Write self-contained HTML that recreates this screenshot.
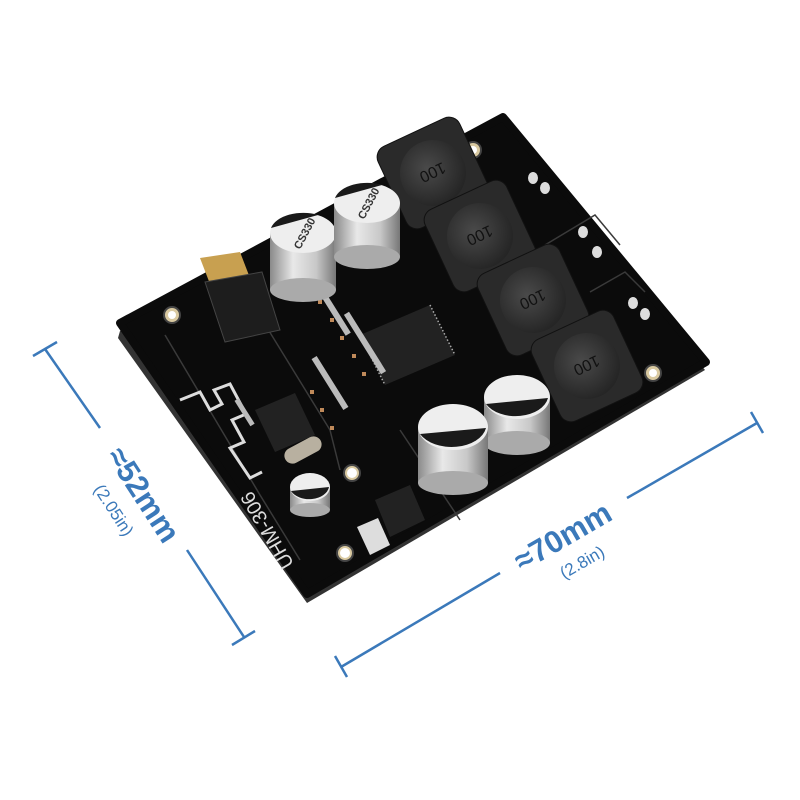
<!DOCTYPE html>
<html><head><meta charset="utf-8"><style>
html,body{margin:0;padding:0;background:#fff;}
svg{display:block}
text{font-family:"Liberation Sans",sans-serif}
</style></head><body>
<svg width="800" height="800" viewBox="0 0 800 800" xmlns="http://www.w3.org/2000/svg">
<defs>
<linearGradient id="cap" x1="0" x2="1" y1="0" y2="0">
<stop offset="0" stop-color="#8a8a8a"/><stop offset="0.35" stop-color="#e8e8e8"/><stop offset="0.7" stop-color="#c8c8c8"/><stop offset="1" stop-color="#777"/>
</linearGradient>
<radialGradient id="core" cx="0.45" cy="0.4" r="0.6"><stop offset="0" stop-color="#4a4a4a"/><stop offset="1" stop-color="#252525"/></radialGradient>
</defs>

<polygon points="120,326 505,118 705,365 307,598 118,333" fill="#333" transform="translate(0,5)"/>
<polygon points="120,323 503,117 706,362 307,594" fill="#0b0b0b" stroke="#0b0b0b" stroke-width="8" stroke-linejoin="round"/>

<g fill="none" stroke="#3a3a3a" stroke-width="1.5">
<polyline points="165,335 260,495 300,560"/>
<polyline points="250,300 330,430 340,470"/>
<polyline points="400,430 460,520"/>
<polyline points="545,245 595,215 620,245"/>
<polyline points="590,292 625,272 645,292"/>
</g>
<path d="M180,400 L200,392 L210,410 L222,404 L214,390 L230,384 L246,414 L232,420 L244,442 L230,448 L250,478 L262,472" fill="none" stroke="#ddd" stroke-width="3"/>

<g fill="#d9c9a0" stroke="#444" stroke-width="2">
<circle cx="172" cy="315" r="8"/><circle cx="473" cy="150" r="8"/><circle cx="653" cy="373" r="8"/>
<circle cx="352" cy="473" r="8"/><circle cx="345" cy="553" r="8"/>
</g>
<g fill="#fff"><circle cx="172" cy="315" r="4"/><circle cx="473" cy="150" r="4"/><circle cx="653" cy="373" r="4"/><circle cx="352" cy="473" r="5"/><circle cx="345" cy="553" r="5"/></g>

<polygon points="200,258 240,252 250,278 210,284" fill="#c8a050"/>
<polygon points="205,282 262,272 280,330 225,342" fill="#1d1d1d" stroke="#444"/>

<polygon points="360,335 430,305 455,355 385,385" fill="#222"/>
<g stroke="#aaa" stroke-width="1.5">
<line x1="360" y1="335" x2="385" y2="385" stroke-dasharray="1.5,2"/>
<line x1="430" y1="305" x2="455" y2="355" stroke-dasharray="1.5,2"/>
</g>
<polygon points="255,410 295,393 315,435 275,452" fill="#222"/>
<g fill="#bbb">
<rect x="310" y="310" width="50" height="6" transform="rotate(58 335 313)"/>
<rect x="330" y="340" width="70" height="6" transform="rotate(58 365 343)"/>
<rect x="300" y="380" width="60" height="6" transform="rotate(58 330 383)"/>
<rect x="230" y="410" width="30" height="5" transform="rotate(58 245 412)"/>
</g>
<g fill="#c08a5a">
<rect x="318" y="300" width="4" height="4"/><rect x="330" y="318" width="4" height="4"/><rect x="340" y="336" width="4" height="4"/>
<rect x="352" y="354" width="4" height="4"/><rect x="362" y="372" width="4" height="4"/><rect x="310" y="390" width="4" height="4"/>
<rect x="320" y="408" width="4" height="4"/><rect x="330" y="426" width="4" height="4"/>
</g>
<rect x="283" y="442" width="40" height="16" rx="8" fill="#b8b0a0" transform="rotate(-28 303 450)"/>
<polygon points="375,500 410,485 425,520 390,537" fill="#222"/>
<polygon points="357,527 378,518 390,545 370,555" fill="#ddd"/>

<g fill="#ddd">
<ellipse cx="533" cy="178" rx="5" ry="6"/><ellipse cx="545" cy="188" rx="5" ry="6"/>
<ellipse cx="583" cy="232" rx="5" ry="6"/><ellipse cx="597" cy="252" rx="5" ry="6"/>
<ellipse cx="633" cy="303" rx="5" ry="6"/><ellipse cx="645" cy="314" rx="5" ry="6"/>
</g>

<g>
<g transform="translate(433,173) rotate(-25)"><rect x="-45" y="-45" width="90" height="90" rx="12" fill="#2a2a2a" stroke="#111"/><circle r="33" fill="url(#core)"/><text x="0" y="6" font-size="16" fill="#111" text-anchor="middle" transform="rotate(180)">100</text></g>
<g transform="translate(480,236) rotate(-25)"><rect x="-45" y="-45" width="90" height="90" rx="12" fill="#2a2a2a" stroke="#111"/><circle r="33" fill="url(#core)"/><text x="0" y="6" font-size="16" fill="#111" text-anchor="middle" transform="rotate(180)">100</text></g>
<g transform="translate(533,300) rotate(-25)"><rect x="-45" y="-45" width="90" height="90" rx="12" fill="#2a2a2a" stroke="#111"/><circle r="33" fill="url(#core)"/><text x="0" y="6" font-size="16" fill="#111" text-anchor="middle" transform="rotate(180)">100</text></g>
<g transform="translate(587,366) rotate(-25)"><rect x="-45" y="-45" width="90" height="90" rx="12" fill="#2a2a2a" stroke="#111"/><circle r="33" fill="url(#core)"/><text x="0" y="6" font-size="16" fill="#111" text-anchor="middle" transform="rotate(180)">100</text></g>
</g>

<g>
<g><rect x="270" y="233" width="66" height="57" fill="url(#cap)"/><ellipse cx="303" cy="290" rx="33" ry="12" fill="#aaa"/><ellipse cx="303" cy="233" rx="33" ry="20" fill="#eee"/><path d="M271,228 A33,20 0 0 1 318,215 Z" fill="#1a1a1a"/><text x="300" y="250" font-size="11" font-weight="bold" fill="#333" transform="rotate(-62 300 250)">CS330</text></g>
<g><rect x="334" y="203" width="66" height="54" fill="url(#cap)"/><ellipse cx="367" cy="257" rx="33" ry="12" fill="#aaa"/><ellipse cx="367" cy="203" rx="33" ry="20" fill="#eee"/><path d="M335,198 A33,20 0 0 1 382,185 Z" fill="#1a1a1a"/><text x="364" y="220" font-size="11" font-weight="bold" fill="#333" transform="rotate(-62 364 220)">CS330</text></g>
<g><rect x="484" y="397" width="66" height="46" fill="url(#cap)"/><ellipse cx="517" cy="443" rx="33" ry="12" fill="#aaa"/><ellipse cx="517" cy="397" rx="33" ry="22" fill="#eee"/><path d="M486,404 A33,22 0 0 0 548,398 Z" fill="#1a1a1a"/></g>
<g><rect x="418" y="427" width="70" height="56" fill="url(#cap)"/><ellipse cx="453" cy="483" rx="35" ry="12" fill="#aaa"/><ellipse cx="453" cy="427" rx="35" ry="23" fill="#eee"/><path d="M420,434 A35,23 0 0 0 486,428 Z" fill="#1a1a1a"/></g>
<g><rect x="290" y="487" width="40" height="23" fill="url(#cap)"/><ellipse cx="310" cy="510" rx="20" ry="7" fill="#aaa"/><ellipse cx="310" cy="487" rx="20" ry="14" fill="#eee"/><path d="M291,491 A20,14 0 0 0 329,487 Z" fill="#1a1a1a"/></g>
</g>

<text x="273" y="527" font-size="20" fill="#ddd" text-anchor="middle" transform="rotate(-120 273 527)">UHM-306</text>

<g stroke="#3b79ba" stroke-width="2.5" fill="none">
<line x1="45" y1="349" x2="100" y2="428"/>
<line x1="187" y1="550" x2="244" y2="637"/>
<line x1="33" y1="356" x2="57" y2="342"/>
<line x1="232" y1="645" x2="255" y2="631"/>
<line x1="341" y1="667" x2="500" y2="573"/>
<line x1="627" y1="498" x2="757" y2="423"/>
<line x1="335" y1="656" x2="347" y2="677"/>
<line x1="751" y1="412" x2="763" y2="433"/>
</g>
<g fill="#3b79ba">
<text x="143" y="505" font-size="31" font-weight="bold" text-anchor="middle" transform="rotate(57 143 495)">≈52mm</text>
<text x="114" y="516" font-size="17" text-anchor="middle" transform="rotate(57 114 510)">(2.05in)</text>
<text x="563" y="547" font-size="31" font-weight="bold" text-anchor="middle" transform="rotate(-30 563 537)">≈70mm</text>
<text x="582" y="568" font-size="17" text-anchor="middle" transform="rotate(-30 582 562)">(2.8in)</text>
</g>
</svg>
</body></html>
